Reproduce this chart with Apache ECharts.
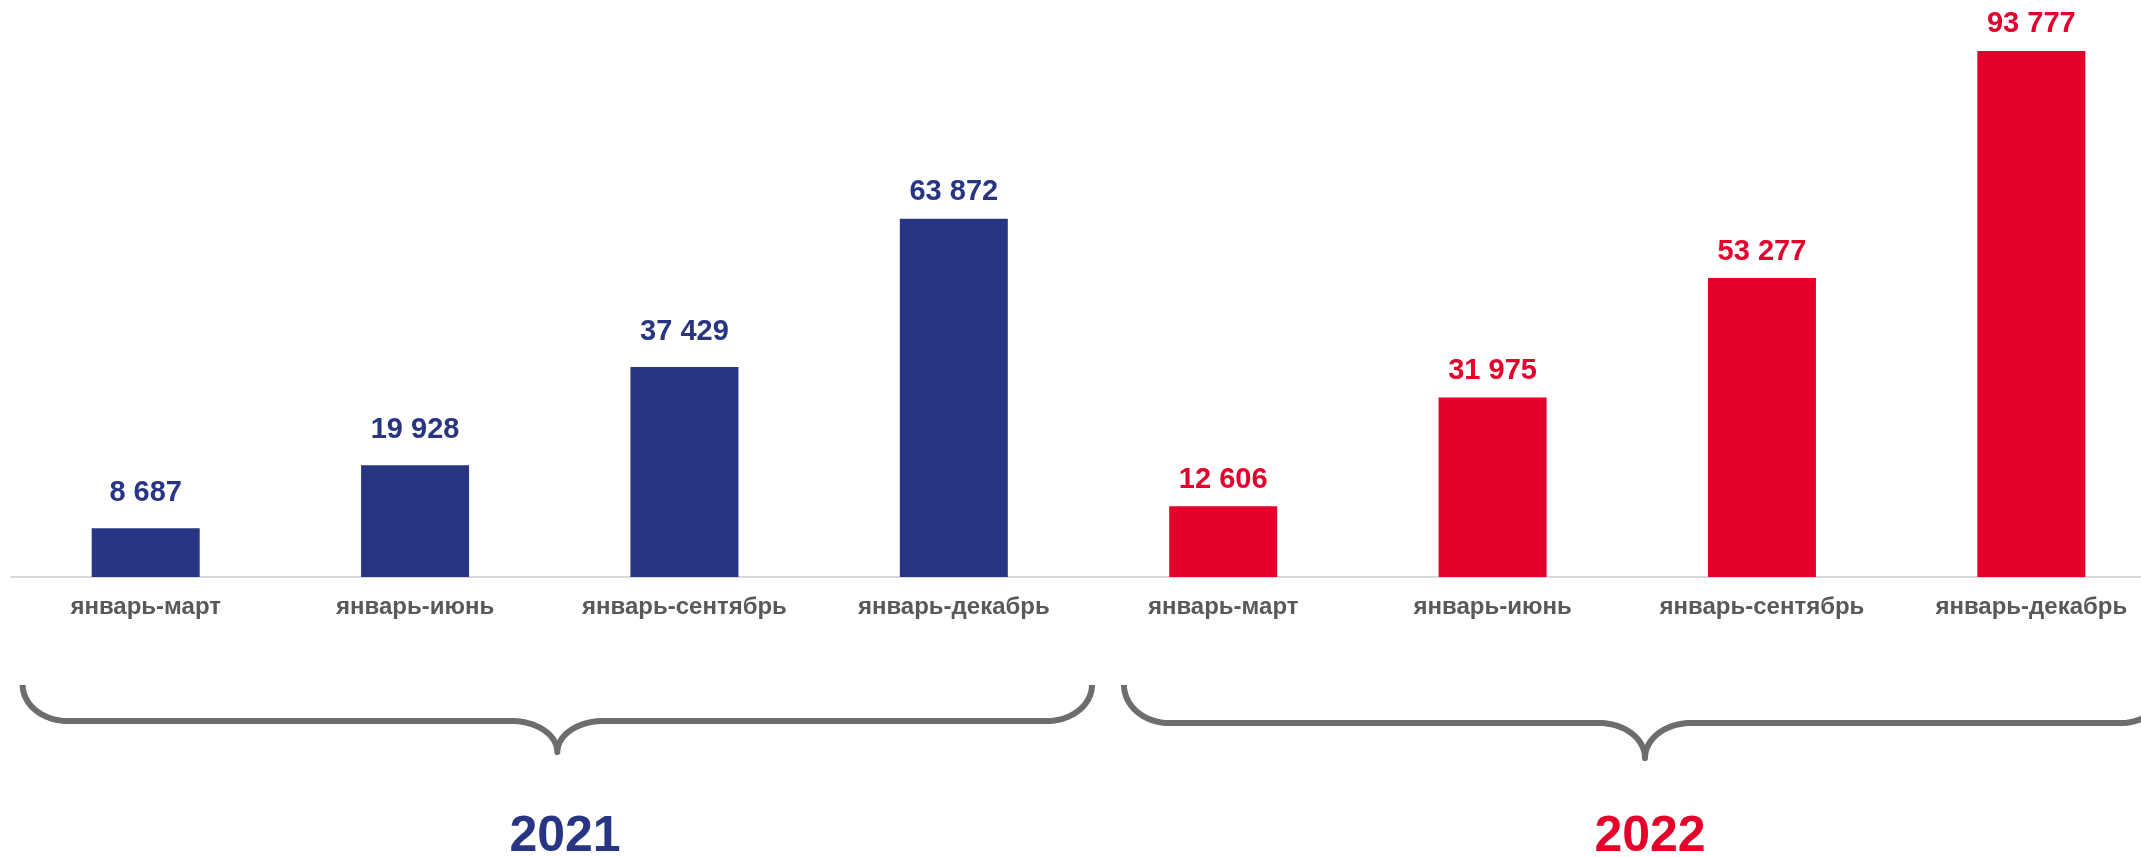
<!DOCTYPE html>
<html>
<head>
<meta charset="utf-8">
<script src="https://cdn.jsdelivr.net/npm/echarts@6/dist/echarts.min.js"></script>
<style>
  html, body { margin: 0; padding: 0; background: #ffffff; overflow: hidden; }
  #chart { width: 2166px; height: 857px; }
</style>
</head>
<body>
<div id="chart"></div>
<script>
// ---- data ----
const categories = [
  'январь-март', 'январь-июнь', 'январь-сентябрь', 'январь-декабрь',
  'январь-март', 'январь-июнь', 'январь-сентябрь', 'январь-декабрь'
];
const values2021 = [8687, 19928, 37429, 63872, null, null, null, null];
const values2022 = [null, null, null, null, 12606, 31975, 53277, 93777];
const yearLabels = ['2021', '2022'];

// ---- styles ----
const BLUE = '#283582';
const RED = '#E4002B';
const FONT = '"Liberation Sans", Arial, Helvetica, sans-serif';
const liftedLabels = [0, 1, 2]; // indices whose value labels sit a bit higher

function fmt(v) {
  return String(v).replace(/\B(?=(\d{3})+(?!\d))/g, ' ');
}

function buildData(vals) {
  return vals.map((v, i) => {
    if (v === null) return null;
    return {
      value: v,
      label: { distance: liftedLabels.indexOf(i) >= 0 ? 21 : 12 }
    };
  });
}

// brace outline as a polyline of quarter-ellipse arcs and straight runs
function bracePoints(x0, x1, top, lineY, tipY, rc, rt) {
  const pts = [];
  const N = 24;
  const xm = (x0 + x1) / 2;
  const cy = lineY - top;
  const ty = tipY - lineY;
  for (let i = 0; i <= N; i++) {
    const t = (Math.PI / 2) * i / N;
    pts.push([x0 + rc - rc * Math.cos(t), top + cy * Math.sin(t)]);
  }
  for (let i = 0; i <= N; i++) {
    const t = (Math.PI / 2) * i / N;
    pts.push([xm - rt + rt * Math.sin(t), tipY - ty * Math.cos(t)]);
  }
  for (let i = 0; i <= N; i++) {
    const t = (Math.PI / 2) * i / N;
    pts.push([xm + rt - rt * Math.cos(t), tipY - ty * Math.sin(t)]);
  }
  for (let i = 0; i <= N; i++) {
    const t = (Math.PI / 2) * i / N;
    pts.push([x1 - rc + rc * Math.sin(t), top + cy * Math.cos(t)]);
  }
  return pts;
}

const chart = echarts.init(document.getElementById('chart'), null, { renderer: 'canvas' });

const labelBase = {
  show: true,
  position: 'top',
  fontFamily: FONT,
  fontWeight: 'bold',
  fontSize: 29,
  formatter: p => fmt(p.value)
};

const option = {
  animation: false,
  backgroundColor: '#ffffff',
  grid: { left: 11, right: 0, top: 16, bottom: 280, containLabel: false, outerBoundsMode: 'none' },
  xAxis: {
    type: 'category',
    data: categories,
    axisLine: { show: true, lineStyle: { color: '#d9d9d9', width: 2 } },
    axisTick: { show: false },
    axisLabel: {
      interval: 0,
      margin: 18,
      color: '#595959',
      fontFamily: FONT,
      fontWeight: 'bold',
      fontSize: 24
    },
    splitLine: { show: false }
  },
  yAxis: {
    type: 'value',
    min: 0,
    max: 100000,
    show: false,
    splitLine: { show: false }
  },
  series: [
    {
      name: '2021',
      type: 'bar',
      barWidth: 108,
      barGap: '-100%',
      data: buildData(values2021),
      itemStyle: { color: BLUE },
      label: Object.assign({}, labelBase, { color: BLUE })
    },
    {
      name: '2022',
      type: 'bar',
      barWidth: 108,
      barGap: '-100%',
      data: buildData(values2022),
      itemStyle: { color: RED },
      label: Object.assign({}, labelBase, { color: RED })
    }
  ],
  graphic: [
    {
      type: 'polyline',
      silent: true,
      shape: { points: bracePoints(22.7, 1092, 685, 721, 752, 45, 46) },
      style: { fill: null, stroke: '#6d6d6d', lineWidth: 6, lineJoin: 'round' }
    },
    {
      type: 'polyline',
      silent: true,
      shape: { points: bracePoints(1124, 2166, 685, 723, 758, 45, 46) },
      style: { fill: null, stroke: '#6d6d6d', lineWidth: 6, lineJoin: 'round' }
    },
    {
      type: 'text',
      x: 565,
      y: 837,
      style: {
        text: yearLabels[0],
        fill: BLUE,
        font: 'bold 50px ' + FONT,
        align: 'center',
        verticalAlign: 'middle'
      }
    },
    {
      type: 'text',
      x: 1650,
      y: 837,
      style: {
        text: yearLabels[1],
        fill: RED,
        font: 'bold 50px ' + FONT,
        align: 'center',
        verticalAlign: 'middle'
      }
    }
  ]
};

chart.setOption(option);
</script>
</body>
</html>
